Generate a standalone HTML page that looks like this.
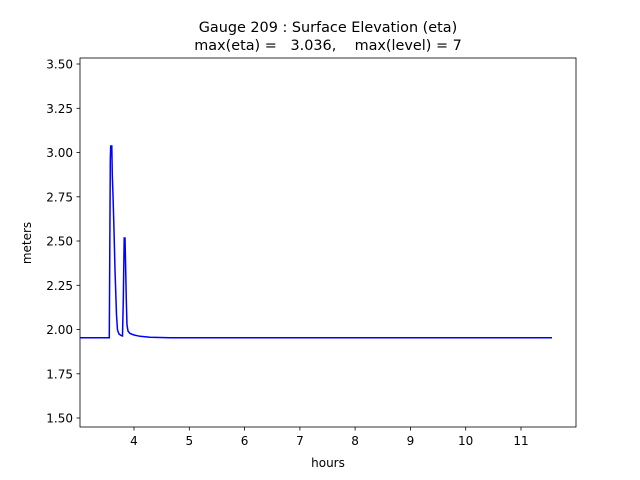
<!DOCTYPE html>
<html><head><meta charset="utf-8"><style>body{margin:0;background:#fff}svg{display:block}text{font-family:"DejaVu Sans","Liberation Sans",sans-serif;fill:#000}</style></head><body>
<svg width="640" height="480" viewBox="0 0 640 480">
<rect x="80" y="58" width="496" height="369" fill="none" stroke="#000" stroke-width="0.8"/>
<text x="328" y="32" font-size="14.4" text-anchor="middle">Gauge 209 : Surface Elevation (eta)</text>
<text x="328" y="50" font-size="14.4" text-anchor="middle" xml:space="preserve">max(eta) =   3.036,    max(level) = 7</text>
<g font-size="12" text-anchor="middle">
<g stroke="#000" stroke-width="0.8">
<line x1="134" y1="427" x2="134" y2="430.5"/><line x1="189.3" y1="427" x2="189.3" y2="430.5"/><line x1="244.6" y1="427" x2="244.6" y2="430.5"/><line x1="299.9" y1="427" x2="299.9" y2="430.5"/><line x1="355.1" y1="427" x2="355.1" y2="430.5"/><line x1="410.4" y1="427" x2="410.4" y2="430.5"/><line x1="465.7" y1="427" x2="465.7" y2="430.5"/><line x1="521" y1="427" x2="521" y2="430.5"/>
</g>
<text x="134" y="445">4</text><text x="189.3" y="445">5</text><text x="244.6" y="445">6</text><text x="299.9" y="445">7</text><text x="355.1" y="445">8</text><text x="410.4" y="445">9</text><text x="465.7" y="445">10</text><text x="521" y="445">11</text>
<text x="328" y="467">hours</text>
</g>
<g font-size="12" text-anchor="end">
<g stroke="#000" stroke-width="0.8">
<line x1="76.5" x2="80" y1="64" y2="64"/><line x1="76.5" x2="80" y1="108.3" y2="108.3"/><line x1="76.5" x2="80" y1="152.5" y2="152.5"/><line x1="76.5" x2="80" y1="196.8" y2="196.8"/><line x1="76.5" x2="80" y1="241" y2="241"/><line x1="76.5" x2="80" y1="285.3" y2="285.3"/><line x1="76.5" x2="80" y1="329.5" y2="329.5"/><line x1="76.5" x2="80" y1="373.8" y2="373.8"/><line x1="76.5" x2="80" y1="418" y2="418"/>
</g>
<text x="73" y="68.5">3.50</text><text x="73" y="112.8">3.25</text><text x="73" y="157">3.00</text><text x="73" y="201.3">2.75</text><text x="73" y="245.5">2.50</text><text x="73" y="289.8">2.25</text><text x="73" y="334">2.00</text><text x="73" y="378.3">1.75</text><text x="73" y="422.5">1.50</text>
</g>
<text transform="translate(31,243) rotate(-90)" font-size="12" text-anchor="middle">meters</text>
<polyline fill="none" stroke="#0000ff" stroke-width="1.5" points="80,337.8 109.3,337.8 110.3,160 110.7,146 111.8,146 112.3,175 113,195 114,230 115,270 116.5,315 117.5,330 119,334 121,335.5 122.5,336 123.3,300 124.2,238 125,238 125.6,265 126.3,300 127,325 128,331 130,333.5 134,335 140,336.3 150,337.2 170,337.7 552,337.8"/>
</svg>
</body></html>
